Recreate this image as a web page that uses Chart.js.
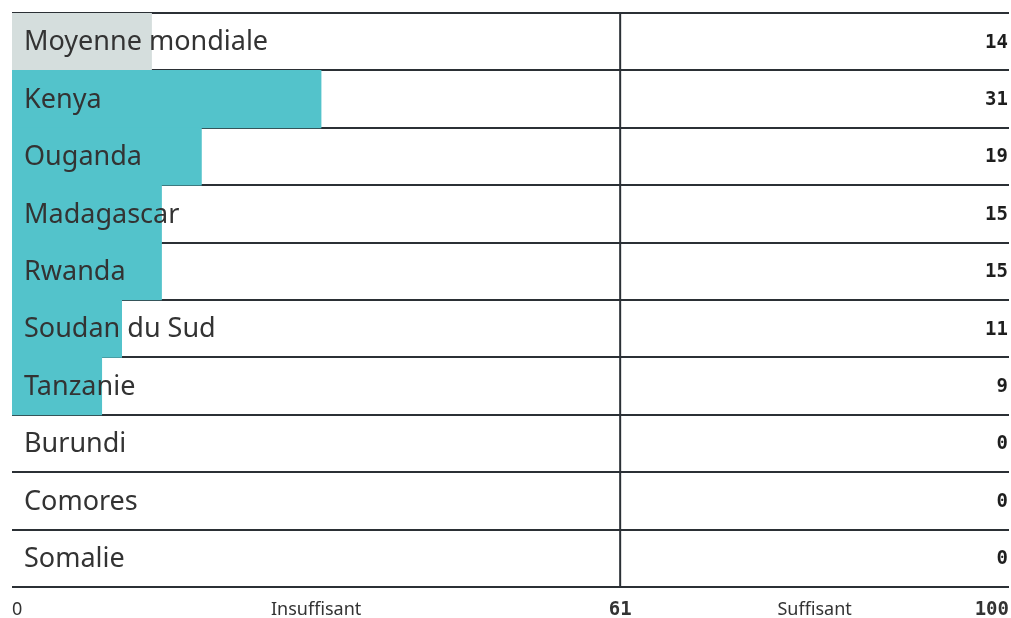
<!DOCTYPE html>
<html>
<head>
<meta charset="utf-8">
<script src="https://cdn.jsdelivr.net/npm/chart.js@4"></script>
<style>
    html, body { margin: 0; padding: 0; background: #fff; }
    #wrap { width: 1011px; height: 618px; }
</style>
</head>
<body>
<div id="wrap"><canvas id="chartScores"></canvas></div>
<script>
    const countries = ['Moyenne mondiale', 'Kenya', 'Ouganda', 'Madagascar', 'Rwanda', 'Soudan du Sud', 'Tanzanie', 'Burundi', 'Comores', 'Somalie']
    const scores = [14, 31, 19, 15, 15, 11, 9, 0, 0, 0]
    const threshold = 61
    const axisMin = 0
    const axisMax = 100
    const zoneLabels = ['Insuffisant', 'Suffisant']

    const sansFont = '"Noto Sans", sans-serif'
    const monoFont = '"DejaVu Sans Mono", monospace'
    const lineColor = '#2b3035'

    // first row is the world average, zero-width bars are not painted
    const barColors = scores.map((v, i) => v === 0 ? 'rgba(0,0,0,0)' : (i === 0 ? '#d5dedd' : '#53c3cb'))

    /*
    * Labels, threshold line and bottom axis
    */
    const overlayPlugin = {
        id: 'overlay',
        afterDatasetsDraw(chart) {
            const ctx = chart.ctx
            const x = chart.scales.x
            const y = chart.scales.y
            const area = chart.chartArea

            // threshold line
            ctx.save()
            ctx.strokeStyle = lineColor
            ctx.lineWidth = 2
            ctx.beginPath()
            ctx.moveTo(x.getPixelForValue(threshold), area.top)
            ctx.lineTo(x.getPixelForValue(threshold), area.bottom)
            ctx.stroke()

            // bottom border
            ctx.beginPath()
            ctx.moveTo(area.left, area.bottom)
            ctx.lineTo(area.right, area.bottom)
            ctx.stroke()

            // country names and values
            ctx.textBaseline = 'middle'
            countries.forEach((name, i) => {
                const py = y.getPixelForValue(i)
                ctx.fillStyle = '#333333'
                ctx.font = '27px ' + sansFont
                ctx.textAlign = 'left'
                ctx.fillText(name, area.left + 12, py + 1)

                ctx.fillStyle = '#1e1e1e'
                ctx.font = 'bold 19px ' + monoFont
                ctx.textAlign = 'right'
                ctx.fillText(String(scores[i]), area.right - 1, py + 1)
            })

            // bottom axis labels
            const ly = area.bottom + 23
            ctx.fillStyle = '#333333'
            ctx.font = '18px ' + sansFont
            ctx.textAlign = 'left'
            ctx.fillText(String(axisMin), x.getPixelForValue(axisMin), ly)
            ctx.textAlign = 'center'
            ctx.fillText(zoneLabels[0], x.getPixelForValue((axisMin + threshold) / 2), ly)
            ctx.fillText(zoneLabels[1], x.getPixelForValue((threshold + axisMax) / 2), ly)

            ctx.fillStyle = '#333333'
            ctx.font = 'bold 19px ' + monoFont
            ctx.fillText(String(threshold), x.getPixelForValue(threshold), ly)
            ctx.textAlign = 'right'
            ctx.fillText(String(axisMax), x.getPixelForValue(axisMax), ly)
            ctx.restore()
        }
    }

    document.addEventListener("DOMContentLoaded", function() {

        const chartElem = document.getElementById('chartScores')

        new Chart(chartElem.getContext('2d'), {
            type: 'bar',
            data: {
                labels: countries,
                datasets: [{
                    data: scores,
                    backgroundColor: barColors,
                    borderWidth: 0,
                    barPercentage: 1,
                    categoryPercentage: 1
                }]
            },
            options: {
                indexAxis: 'y',
                responsive: true,
                maintainAspectRatio: false,
                animation: false,
                layout: {
                    padding: { left: 12, right: 2, top: 13, bottom: 31 }
                },
                plugins: {
                    legend: { display: false },
                    tooltip: { enabled: false }
                },
                scales: {
                    x: {
                        min: axisMin,
                        max: axisMax,
                        display: false
                    },
                    y: {
                        offset: true,
                        ticks: { display: false },
                        border: { display: false },
                        grid: {
                            offset: true,
                            color: lineColor,
                            lineWidth: 2,
                            drawTicks: false
                        }
                    }
                }
            },
            plugins: [overlayPlugin]
        })

    })
</script>
</body>
</html>
